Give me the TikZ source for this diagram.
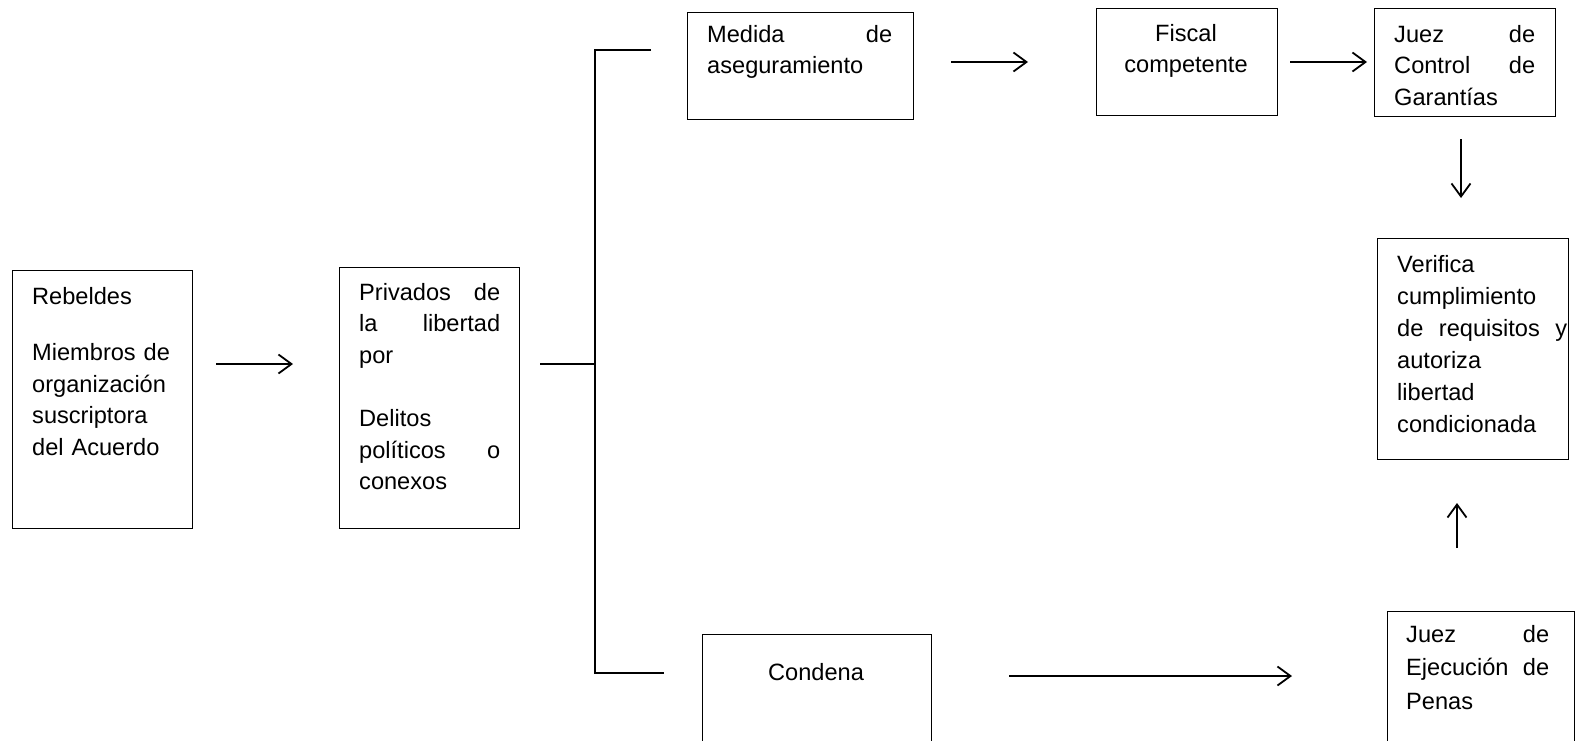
\documentclass[tikz,border=0pt]{standalone}
\usepackage{fontspec}
\setmainfont{Liberation Sans}
\usetikzlibrary{arrows.meta}
\begin{document}
\begin{tikzpicture}[x=1pt,y=-1pt,
  box/.style={draw, line width=1.3pt, inner sep=0pt, anchor=north west},
  txt/.style={inner sep=0pt, align=left, anchor=base west,
    font=\fontsize{23.6pt}{31.5pt}\selectfont},
  ctxt/.style={inner sep=0pt, align=center, anchor=base, text width=180pt,
    font=\fontsize{23.6pt}{31.5pt}\selectfont},
  arr/.style={line width=1.8pt, -{Straight Barb[length=13pt,width=19pt]}},
  link/.style={line width=1.5pt, line join=miter}]
\useasboundingbox (0,0) rectangle (1577,740);
\fill[white] (0,0) rectangle (1577,740);
\clip (0,0) rectangle (1577,740);

% frames
\node[box, minimum width=180pt, minimum height=258pt] (reb) at (12,270) {};
\node[box, minimum width=180pt, minimum height=261pt] (priv) at (339,267) {};
\node[box, minimum width=226pt, minimum height=107pt] (med) at (687,12) {};
\node[box, minimum width=181pt, minimum height=107pt] (fis) at (1096,8) {};
\node[box, minimum width=181pt, minimum height=108pt] (jcg) at (1374,8) {};
\node[box, minimum width=191pt, minimum height=221pt] (ver) at (1377,238) {};
\node[box, minimum width=187pt, minimum height=160pt] (jep) at (1387,611) {};
\node[box, minimum width=229pt, minimum height=140pt] (con) at (702,634) {};

% texts
\node[txt, text width=141pt] (rebT) at (32,304)
  {Rebeldes\\[25pt] Miembros de\\ organización\\ suscriptora\\ del Acuerdo};
\node[txt, text width=141pt] (privT) at (359,300)
  {Privados \hfill de\\ la \hfill libertad\\ por\\[32pt] Delitos\\ políticos \hfill o\\ conexos};
\node[txt, text width=185pt] (medT) at (707,42)
  {Medida \hfill de\\ aseguramiento};
\node[ctxt] (fisT) at (1186,41) {Fiscal\\ competente};
\node[txt, text width=141pt] (jcgT) at (1394,42)
  {Juez \hfill de\\ Control \hfill de\\ Garantías};
\node[txt, text width=170pt, font=\fontsize{23.6pt}{32pt}\selectfont] (verT) at (1397,272)
  {Verifica\\ cumplimiento\\ de \hfill requisitos \hfill y\\ autoriza\\ libertad\\ condicionada};
\node[txt, text width=143pt, font=\fontsize{23.6pt}{33.5pt}\selectfont] (jepT) at (1406,642)
  {Juez \hfill de\\ Ejecución \hfill de\\ Penas};
\node[ctxt] (conT) at (816,680) {Condena};

% branching bracket
\coordinate (brS) at (540,364);
\coordinate (brJ) at (595,364);
\coordinate (brT) at (595,50);
\coordinate (brB) at (595,673);
\coordinate (brTe) at (651,50);
\coordinate (brBe) at (664,673);
\draw[link] (brS) -- (brJ);
\draw[link] (brTe) -- (brT) -- (brB) -- (brBe);

% arrows
\coordinate (a1s) at (216,364);  \coordinate (a1e) at (293,364);
\coordinate (a2s) at (951,62);   \coordinate (a2e) at (1028,62);
\coordinate (a3s) at (1290,62);  \coordinate (a3e) at (1367,62);
\coordinate (a4s) at (1461,139); \coordinate (a4e) at (1461,198);
\coordinate (a5s) at (1457,548); \coordinate (a5e) at (1457,503);
\coordinate (a6s) at (1009,676); \coordinate (a6e) at (1292,676);
\draw[arr] (a1s) -- (a1e);
\draw[arr] (a2s) -- (a2e);
\draw[arr] (a3s) -- (a3e);
\draw[arr] (a4s) -- (a4e);
\draw[arr] (a5s) -- (a5e);
\draw[arr] (a6s) -- (a6e);
\end{tikzpicture}
\end{document}
